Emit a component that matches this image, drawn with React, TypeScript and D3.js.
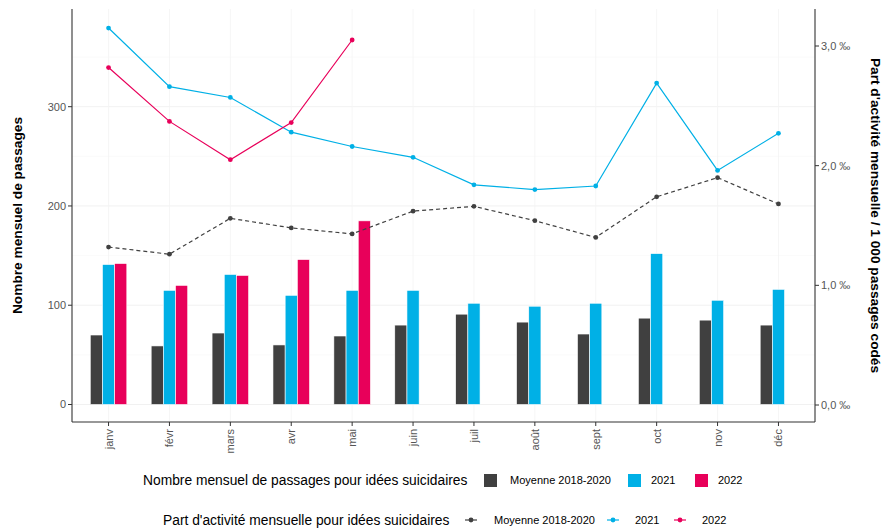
import React from 'react';
import * as d3 from 'd3';

// mois et valeurs
const months = ['janv', 'févr', 'mars', 'avr', 'mai', 'juin', 'juil', 'août', 'sept', 'oct', 'nov', 'déc'];

const countMoy = [70, 59, 72, 60, 69, 80, 91, 83, 71, 87, 85, 80];
const count2021 = [141, 115, 131, 110, 115, 115, 102, 99, 102, 152, 105, 116];
const count2022 = [142, 120, 130, 146, 185];

const partMoy = [1.32, 1.26, 1.56, 1.48, 1.43, 1.62, 1.66, 1.54, 1.40, 1.74, 1.90, 1.68];
const part2021 = [3.15, 2.66, 2.57, 2.28, 2.16, 2.07, 1.84, 1.80, 1.83, 2.69, 1.96, 2.27];
const part2022 = [2.82, 2.37, 2.05, 2.36, 3.05];

const leftTicks = [0, 100, 200, 300];
const rightTicks = [0, 1, 2, 3];

const C_MOY = '#404040';
const C_21 = '#00b0e6';
const C_22 = '#e8005a';

const W = 883;
const H = 532;
const FONT = '"Liberation Sans", Arial, sans-serif';

export default function App() {
  const left = 72;
  const right = 815;
  const top = 9;
  const bottom = 422;

  const x = d3.scalePoint<string>().domain(months).range([left, right]).padding(0.6);
  const yL = d3.scaleLinear().domain([0, 300]).range([404.5, 106.7]);
  const yR = d3.scaleLinear().domain([0, 3]).range([405, 46]);
  const step = x.step();
  const bw = (step * 0.6) / 3;

  const series = [
    { vals: countMoy, color: C_MOY, off: -1 },
    { vals: count2021, color: C_21, off: 0 },
    { vals: count2022, color: C_22, off: 1 },
  ];

  const lines = [
    { vals: partMoy, color: C_MOY, dash: '4,3' },
    { vals: part2021, color: C_21, dash: null },
    { vals: part2022, color: C_22, dash: null },
  ];

  const line = d3.line<number>()
    .x((_, i) => x(months[i])!)
    .y(d => yR(d));

  const minor = [50, 150, 250, 350];

  return (
    <svg width={W} height={H} style={{ position: 'absolute', left: 0, top: 0 }} fontFamily={FONT}>
      <rect width={W} height={H} fill="white" />

      {/* grille */}
      {minor.map(v => (
        <line key={'mn' + v} x1={left} x2={right} y1={yL(v)} y2={yL(v)} stroke="#f6f6f6" strokeWidth={0.6} />
      ))}
      {leftTicks.map(v => (
        <line key={'mj' + v} x1={left} x2={right} y1={yL(v)} y2={yL(v)} stroke="#eeeeee" strokeWidth={0.8} />
      ))}
      {months.map(m => (
        <line key={'v' + m} x1={x(m)} x2={x(m)} y1={top} y2={bottom} stroke="#f4f4f4" strokeWidth={0.8} />
      ))}

      {/* barres */}
      {series.map((s, si) =>
        s.vals.map((v, i) => (
          <rect
            key={si + '-' + i}
            x={x(months[i])! + s.off * bw - bw / 2}
            y={yL(v)}
            width={bw}
            height={yL(0) - yL(v)}
            fill={s.color}
            stroke="white"
            strokeWidth={0.6}
          />
        ))
      )}

      {/* courbes */}
      {lines.map((l, li) => (
        <g key={'l' + li}>
          <path d={line(l.vals)!} fill="none" stroke={l.color} strokeWidth={1.2} strokeDasharray={l.dash ?? undefined} />
          {l.vals.map((v, i) => (
            <circle key={i} cx={x(months[i])} cy={yR(v)} r={2.4} fill={l.color} />
          ))}
        </g>
      ))}

      {/* axes */}
      <line x1={left} x2={left} y1={top} y2={bottom} stroke="#333" strokeWidth={1.1} />
      <line x1={right} x2={right} y1={top} y2={bottom} stroke="#333" strokeWidth={1.1} />
      <line x1={left} x2={right} y1={bottom} y2={bottom} stroke="#333" strokeWidth={1.1} />

      {leftTicks.map(v => (
        <g key={'lt' + v}>
          <line x1={left - 4} x2={left} y1={yL(v)} y2={yL(v)} stroke="#333" />
          <text x={left - 6} y={yL(v)} dy="0.35em" textAnchor="end" fontSize={11} fill="#555">{v}</text>
        </g>
      ))}
      {rightTicks.map(v => (
        <g key={'rt' + v}>
          <line x1={right} x2={right + 4} y1={yR(v)} y2={yR(v)} stroke="#333" />
          <text x={right + 6} y={yR(v)} dy="0.35em" fontSize={11} fill="#555">
            {d3.format('.1f')(v).replace('.', ',') + ' ‰'}
          </text>
        </g>
      ))}
      {months.map(m => (
        <g key={'xt' + m}>
          <line x1={x(m)} x2={x(m)} y1={bottom} y2={bottom + 4} stroke="#333" />
          <text
            transform={`translate(${x(m)! + 4},${bottom + 7}) rotate(-90)`}
            textAnchor="end"
            fontSize={11}
            fill="#555"
          >
            {m}
          </text>
        </g>
      ))}

      <text transform={`translate(22,${(top + bottom) / 2}) rotate(-90)`} textAnchor="middle" fontSize={13.7} fontWeight="bold" fill="#000">
        Nombre mensuel de passages
      </text>
      <text transform={`translate(871,${(top + bottom) / 2}) rotate(90)`} textAnchor="middle" fontSize={13.7} fontWeight="bold" fill="#000">
        Part d'activité mensuelle / 1 000 passages codés
      </text>

      {/* légende barres */}
      <g fontSize={11} fill="#000">
        <text x={143} y={485} fontSize={13.8}>Nombre mensuel de passages pour idées suicidaires</text>
        <rect x={484} y={474} width={13} height={13} fill={C_MOY} />
        <text x={510} y={484}>Moyenne 2018-2020</text>
        <rect x={628} y={474} width={13} height={13} fill={C_21} />
        <text x={651} y={484}>2021</text>
        <rect x={695} y={474} width={13} height={13} fill={C_22} />
        <text x={718} y={484}>2022</text>
      </g>

      {/* légende courbes */}
      <g fontSize={11} fill="#000">
        <text x={163} y={525} fontSize={13.8}>Part d'activité mensuelle pour idées suicidaires</text>
        {[
          { cx: 471, tx: 494, label: 'Moyenne 2018-2020', color: C_MOY },
          { cx: 613, tx: 635, label: '2021', color: C_21 },
          { cx: 680, tx: 702, label: '2022', color: C_22 },
        ].map(k => (
          <g key={k.label}>
            <line x1={k.cx - 6} x2={k.cx + 6} y1={520} y2={520} stroke={k.color} strokeWidth={1.2} />
            <circle cx={k.cx} cy={520} r={2.4} fill={k.color} />
            <text x={k.tx} y={524}>{k.label}</text>
          </g>
        ))}
      </g>
    </svg>
  );
}
